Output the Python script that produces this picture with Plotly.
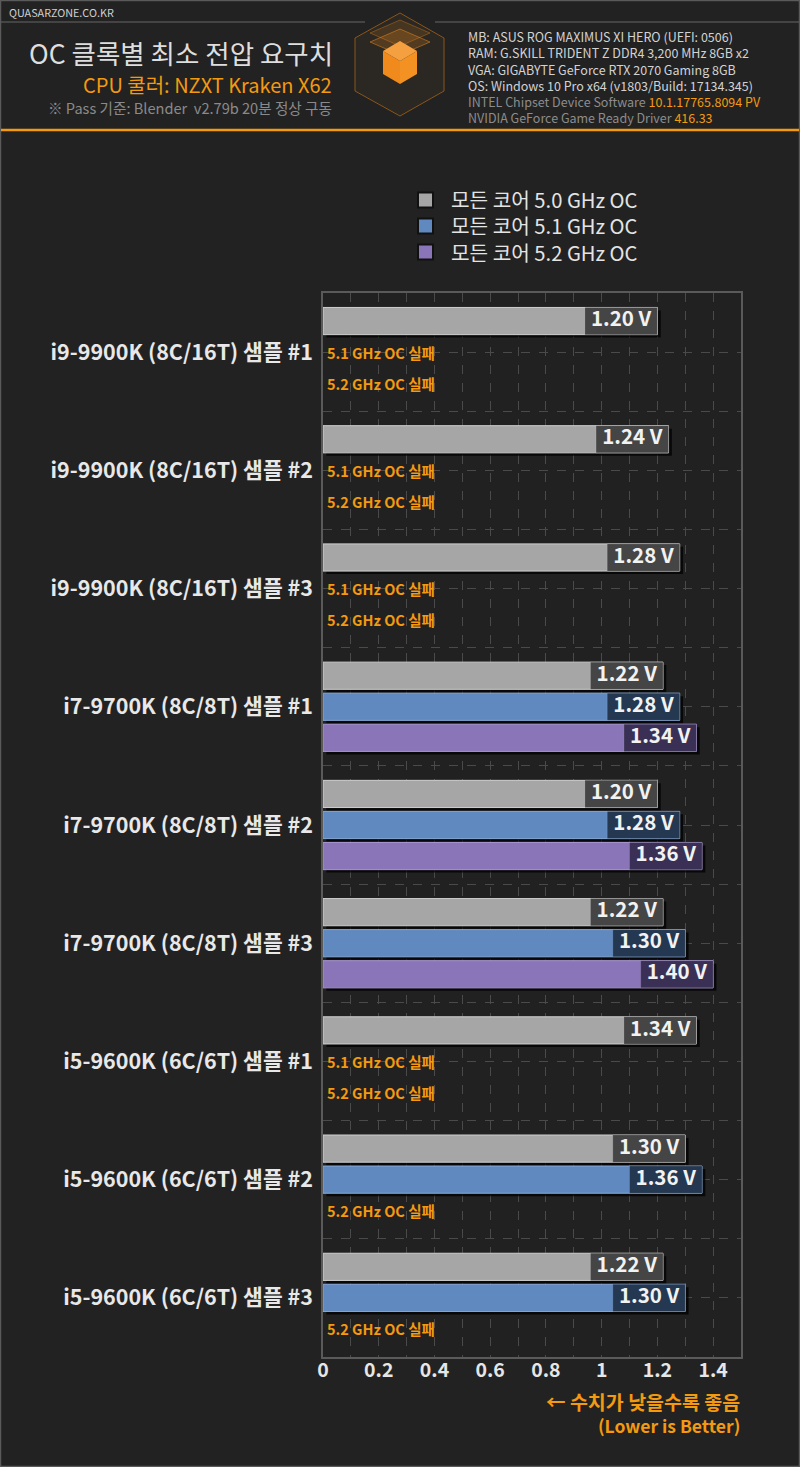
import plotly.graph_objects as go

# data
samples = [
    "i9-9900K (8C/16T) 샘플 #1",
    "i9-9900K (8C/16T) 샘플 #2",
    "i9-9900K (8C/16T) 샘플 #3",
    "i7-9700K (8C/8T) 샘플 #1",
    "i7-9700K (8C/8T) 샘플 #2",
    "i7-9700K (8C/8T) 샘플 #3",
    "i5-9600K (6C/6T) 샘플 #1",
    "i5-9600K (6C/6T) 샘플 #2",
    "i5-9600K (6C/6T) 샘플 #3",
]
oc_50 = [1.20, 1.24, 1.28, 1.22, 1.20, 1.22, 1.34, 1.30, 1.22]
oc_51 = [None, None, None, 1.28, 1.28, 1.30, None, 1.36, 1.30]
oc_52 = [None, None, None, 1.34, 1.36, 1.40, None, None, None]
series_names = ["모든 코어 5.0 GHz OC", "모든 코어 5.1 GHz OC", "모든 코어 5.2 GHz OC"]
fail_labels = ["5.0 GHz OC 실패", "5.1 GHz OC 실패", "5.2 GHz OC 실패"]
x_ticks = [0, 0.2, 0.4, 0.6, 0.8, 1, 1.2, 1.4]

spec_lines = [
    "MB: ASUS ROG MAXIMUS XI HERO (UEFI: 0506)",
    "RAM: G.SKILL TRIDENT Z DDR4 3,200 MHz 8GB x2",
    "VGA: GIGABYTE GeForce RTX 2070 Gaming 8GB",
    "OS: Windows 10 Pro x64 (v1803/Build: 17134.345)",
]
driver_lines = [
    ("INTEL Chipset Device Software", "10.1.17765.8094 PV"),
    ("NVIDIA GeForce Game Ready Driver", "416.33"),
]

bar_colors = ["#a6a6a6", "#5f89bf", "#8a75b9"]
edge_colors = ["#cfcfcf", "#86a8d6", "#a896d2"]
box_colors = ["#454545", "#243852", "#3a3056"]
ORANGE = "#f39a10"
FONT = "Noto Sans CJK KR"

W, H = 800, 1467
L, R, T, B = 323, 741, 293, 1357
slot = 0.2627
bar_w = 0.23
box_len = 0.26


def px(x):
    return (x - L) / (R - L)


def py(y):
    return (B - y) / (B - T)


fig = go.Figure()
series = [oc_50, oc_51, oc_52]

# shadows first
for k, vals in enumerate(series):
    ys = [i + (k - 1) * slot + 0.025 for i, v in enumerate(vals) if v is not None]
    xs = [v for v in vals if v is not None]
    fig.add_trace(go.Bar(
        y=ys, x=xs, base=0.012, orientation="h", width=bar_w,
        marker=dict(color="rgba(0,0,0,0.75)", line=dict(width=0)),
        showlegend=False, hoverinfo="skip",
    ))

for k, vals in enumerate(series):
    ys = [i + (k - 1) * slot for i, v in enumerate(vals) if v is not None]
    xs = [v for v in vals if v is not None]
    fig.add_trace(go.Bar(
        y=ys, x=xs, orientation="h", width=bar_w, name=series_names[k],
        marker=dict(color=bar_colors[k], line=dict(color=edge_colors[k], width=1)),
        showlegend=False,
    ))
    # dark value box at end of bar
    fig.add_trace(go.Bar(
        y=ys, x=[box_len] * len(xs), base=[v - box_len for v in xs],
        orientation="h", width=bar_w,
        marker=dict(color=box_colors[k], line=dict(color="rgba(255,255,255,0.12)", width=1)),
        showlegend=False, hoverinfo="skip",
    ))
    fig.add_trace(go.Scatter(
        y=ys, x=[v - box_len / 2 for v in xs], mode="text",
        text=[f"{v:.2f} V" for v in xs],
        textposition="middle center",
        textfont=dict(family=FONT, size=20.5, color="#f2f2f2", weight="bold"),
        showlegend=False, hoverinfo="skip",
    ))

# failed clock labels
for k, vals in enumerate(series):
    for i, v in enumerate(vals):
        if v is None:
            fig.add_annotation(
                x=0, y=i + (k - 1) * slot, xref="x", yref="y",
                text=fail_labels[k], showarrow=False, xanchor="left", xshift=2,
                font=dict(family=FONT, size=14.5, color=ORANGE, weight="bold"),
            )

shapes = []
# outer border
shapes.append(dict(type="rect", xref="paper", yref="paper",
                   x0=px(0.5), x1=px(W - 0.5), y0=py(0.5), y1=py(H - 0.5),
                   line=dict(color="#5a5a5a", width=1.5), layer="below"))
# header top strip lines
shapes.append(dict(type="line", xref="paper", yref="paper",
                   x0=px(1), x1=px(365), y0=py(22), y1=py(22),
                   line=dict(color="#666666", width=1)))
shapes.append(dict(type="line", xref="paper", yref="paper",
                   x0=px(435), x1=px(799), y0=py(22), y1=py(22),
                   line=dict(color="#666666", width=1)))
# orange rule
shapes.append(dict(type="line", xref="paper", yref="paper",
                   x0=px(1), x1=px(799), y0=py(130), y1=py(130),
                   line=dict(color=ORANGE, width=2.5)))


def path(points):
    s = "M " + " L ".join(f"{px(x)},{py(y)}" for x, y in points) + " Z"
    return s


# hexagon logo
hexagon = [(400, 13), (444, 38), (444, 91), (400, 116), (355, 91), (355, 38)]
shapes.append(dict(type="path", xref="paper", yref="paper", path=path(hexagon),
                   fillcolor="#2b2722", line=dict(color="#8a561a", width=1)))
for dy, op in [(0, 0.35), (9, 0.5)]:
    dia = [(400, 20 + dy), (430, 33 + dy), (400, 46 + dy), (370, 33 + dy)]
    shapes.append(dict(type="path", xref="paper", yref="paper", path=path(dia),
                       fillcolor=f"rgba(240,140,30,{op * 0.4})",
                       line=dict(color=f"rgba(240,140,30,{op})", width=1)))
cube_left = [(383, 51), (400, 61), (400, 84), (383, 74)]
cube_right = [(400, 61), (417, 51), (417, 74), (400, 84)]
cube_top = [(400, 41), (417, 51), (400, 61), (383, 51)]
shapes.append(dict(type="path", xref="paper", yref="paper", path=path(cube_left),
                   fillcolor="#f08a1c", line=dict(width=0)))
shapes.append(dict(type="path", xref="paper", yref="paper", path=path(cube_right),
                   fillcolor="#f39222", line=dict(width=0)))
shapes.append(dict(type="path", xref="paper", yref="paper", path=path(cube_top),
                   fillcolor="#f5a040", line=dict(width=0)))

annotations = [
    dict(x=px(8), y=py(12), text="QUASARZONE.CO.KR", xanchor="left", yanchor="middle",
         font=dict(family=FONT, size=10.8, color="#d0d0d0")),
    dict(x=px(334), y=py(52), text="OC 클록별 최소 전압 요구치", xanchor="right", yanchor="middle",
         font=dict(family=FONT, size=26.5, color="#dedede")),
    dict(x=px(333), y=py(84), text="CPU 쿨러: NZXT Kraken X62", xanchor="right", yanchor="middle",
         font=dict(family=FONT, size=20, color=ORANGE)),
    dict(x=px(333), y=py(107), text="※ Pass 기준: Blender  v2.79b 20분 정상 구동", xanchor="right",
         yanchor="middle", font=dict(family=FONT, size=14.6, color="#8a8a8a")),
    dict(x=px(741), y=py(1412),
         text="<span style='font-size:19.5px'>← 수치가 낮을수록 좋음</span><br>(Lower is Better)",
         xanchor="right", yanchor="middle", align="right",
         font=dict(family=FONT, size=17.5, color=ORANGE, weight="bold")),
]

# hardware block as one multi-line text
rows = [f"<span style='color:#d2d2d2'>{s}</span>" for s in spec_lines]
rows += [f"{a} <span style='color:{ORANGE}'>{b}</span>" for a, b in driver_lines]
annotations.append(dict(x=px(467), y=py(77), text="<br>".join(rows), xanchor="left",
                        yanchor="middle", align="left",
                        font=dict(family=FONT, size=12.5, color="#8c8c8c")))

# legend, drawn by hand to keep the tight row spacing
for k, name in enumerate(series_names):
    cy = 200 + 26 * k
    shapes.append(dict(type="rect", xref="paper", yref="paper",
                       x0=px(418), x1=px(433), y0=py(cy - 7.5), y1=py(cy + 7.5),
                       fillcolor=bar_colors[k], line=dict(color="#111111", width=2)))
annotations.append(dict(x=px(450), y=py(226), text="<br>".join(series_names),
                        xanchor="left", yanchor="middle", align="left",
                        font=dict(family=FONT, size=20.2, color="#e4e4e4")))

for a in annotations:
    a.update(xref="paper", yref="paper", showarrow=False, borderpad=0)
    fig.add_annotation(**a)

fig.update_layout(
    width=W, height=H,
    margin=dict(l=L, r=W - R, t=T, b=H - B, pad=0),
    paper_bgcolor="#222222", plot_bgcolor="#212121",
    barmode="overlay", shapes=shapes,
    showlegend=False,
    font=dict(family=FONT),
)
fig.update_xaxes(
    range=[0, 1.5], tickvals=x_ticks, ticks="",
    showgrid=True, gridcolor="#4a4a4a", griddash="dash", gridwidth=1,
    minor=dict(dtick=0.1, tick0=0, showgrid=True, gridcolor="#4a4a4a", griddash="dash"),
    showline=True, linecolor="#5a5a5a", linewidth=1.5, mirror=True, zeroline=False,
    tickfont=dict(family=FONT, size=19.5, color="#e6e6e6", weight="bold"),
    ticklabelstandoff=-5, fixedrange=True,
)
fig.update_yaxes(
    range=[8.5, -0.5], tickvals=list(range(len(samples))), ticktext=samples, ticks="",
    showgrid=True, gridcolor="#4a4a4a", griddash="dash", gridwidth=1,
    minor=dict(dtick=1, tick0=0.5, showgrid=True, gridcolor="#4a4a4a", griddash="dash"),
    showline=True, linecolor="#5a5a5a", linewidth=1.5, mirror=True, zeroline=False,
    tickfont=dict(family=FONT, size=21.5, color="#e8e8e8", weight="bold"),
    ticklabelstandoff=4, fixedrange=True,
)

fig.write_html("out.html", config={"displayModeBar": False},
               post_script="document.body.style.margin='0';")
